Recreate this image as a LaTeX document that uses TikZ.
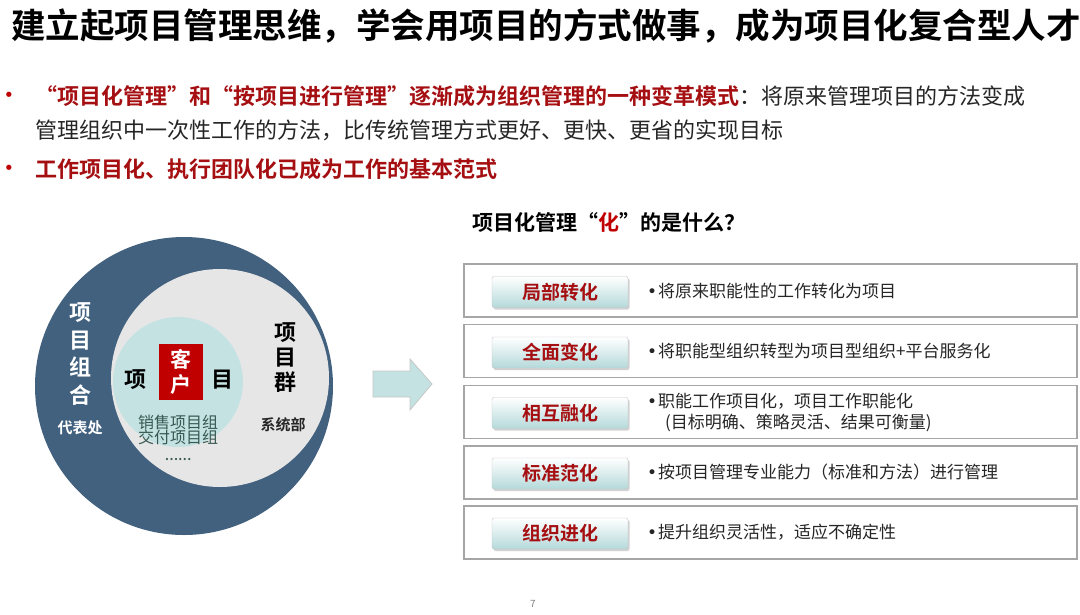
\documentclass[tikz,border=0pt]{standalone}
\usepackage{fontspec}
\setmainfont{Noto Sans CJK SC}[BoldFont={Noto Sans CJK SC Bold}]
\newfontfamily\symf{DejaVu Sans}
\usepackage{xcolor}
\usetikzlibrary{positioning, shadows}
\definecolor{hdred}{HTML}{A50F12}
\definecolor{bulred}{HTML}{C00000}
\definecolor{txtgray}{HTML}{262626}
\definecolor{ringblue}{HTML}{41617F}
\definecolor{ringgray}{HTML}{E6E6E6}
\definecolor{coreteal}{HTML}{C4E2E2}
\definecolor{grpgreen}{HTML}{365850}
\definecolor{boxline}{HTML}{A6A6A6}
\definecolor{btnteal}{HTML}{B5D9DA}
\newcommand{\bul}{{\symf •}}

\begin{document}
\begin{tikzpicture}[x=1pt, y=-1pt,
    every node/.style={inner sep=0pt},
    ttl/.style={anchor=west, font=\fontsize{34.5}{40}\selectfont\bfseries},
    pt/.style={anchor=west, font=\fontsize{22}{26}\selectfont, text=txtgray},
    dot/.style={font=\fontsize{18}{22}\selectfont, text=bulred},
    ring/.style={circle, minimum size=#1},
    vtxt/.style={align=center, font=\fontsize{22}{27}\selectfont\bfseries},
    rowbox/.style={draw=boxline, line width=1.3pt, fill=white,
                   minimum width=613, minimum height=53},
    btn/.style={draw=gray!45, rounded corners=2pt, top color=white, bottom color=btnteal,
                drop shadow={opacity=0.35, shadow xshift=1.5pt, shadow yshift=-2pt},
                minimum width=136, minimum height=31,
                font=\fontsize{19}{22}\selectfont\bfseries, text=hdred},
    desc/.style={anchor=west, align=left, font=\fontsize{17}{21}\selectfont, text=txtgray},
]
    \useasboundingbox (0,0) rectangle (1080,614);

    % header and bullet lines
    \node[ttl] (title) at (11,26) {建立起项目管理思维，学会用项目的方式做事，成为项目化复合型人才};
    \node[dot] (dot1) at (9,97) {\bul};
    \node[pt] (line1) at (35,96) {{\color{hdred}\bfseries “项目化管理”和“按项目进行管理”逐渐成为组织管理的一种变革模式}：将原来管理项目的方法变成};
    \node[pt] (line2) at (35,130) {管理组织中一次性工作的方法，比传统管理方式更好、更快、更省的实现目标};
    \node[dot] (dot2) at (9,170) {\bul};
    \node[pt, text=hdred, font=\fontsize{22}{26}\selectfont\bfseries] (line3) at (35,169) {工作项目化、执行团队化已成为工作的基本范式};

    % rings
    \node[ring=298, fill=ringblue] (outer) at (184,386) {};
    \node[ring=218, fill=ringgray] (mid) at (220,378) {};
    \node[ring=130, fill=coreteal] (core) at (178,382) {};
    \node[fill=bulred, minimum width=44, minimum height=56] (cust) at (181,372) {};
    \node[vtxt, text=white, font=\fontsize{21}{25}\selectfont\bfseries] at (cust) {客\\户};
    \node[vtxt] (xiang) at (135,380) {项};
    \node[vtxt] (mu) at (222,380) {目};
    \node[align=center, font=\fontsize{16}{15}\selectfont, text=grpgreen] (grp) at (178,430) {销售项目组\\交付项目组};
    \node[font=\fontsize{12}{12}\selectfont\bfseries, text=grpgreen] (more) at (178,460) {……};
    \node[vtxt, font=\fontsize{22}{25}\selectfont\bfseries] (qun) at (285,358) {项\\目\\群};
    \node[font=\fontsize{15}{18}\selectfont\bfseries, text=txtgray] (sys) at (283,425) {系统部};
    \node[vtxt, text=white, font=\fontsize{22}{27.5}\selectfont\bfseries] (zuhe) at (80,354) {项\\目\\组\\合};
    \node[font=\fontsize{15}{18}\selectfont\bfseries, text=white] (rep) at (80,428) {代表处};

    % big arrow
    \draw[gray!45, fill=coreteal, line width=0.8pt]
        (373,371) -- (410,371) -- (410,359) -- (432,384) -- (410,410) -- (410,397) -- (373,397) -- cycle;

    % question
    \node[anchor=west, font=\fontsize{21}{25}\selectfont\bfseries] (quest) at (472,222)
        {项目化管理“{\color{bulred}化}”的是什么？};

    % five rows
    \node[rowbox] (r1) at (770.5,290.5) {};
    \node[btn] (b1) at (560,292) {局部转化};
    \node[desc] (d1) at (647,291) {\bul\hspace{1pt}将原来职能性的工作转化为项目};

    \node[rowbox] (r2) at (770.5,351) {};
    \node[btn] (b2) at (560,352.5) {全面变化};
    \node[desc] (d2) at (647,351.5) {\bul\hspace{1pt}将职能型组织转型为项目型组织+平台服务化};

    \node[rowbox] (r3) at (770.5,412) {};
    \node[btn] (b3) at (560,413) {相互融化};
    \node[desc] (d3) at (647,413) {\bul\hspace{1pt}职能工作项目化，项目工作职能化\\\hspace{18pt}(目标明确、策略灵活、结果可衡量)};

    \node[rowbox] (r4) at (770.5,472.5) {};
    \node[btn] (b4) at (560,473.5) {标准范化};
    \node[desc] (d4) at (647,472.5) {\bul\hspace{1pt}按项目管理专业能力（标准和方法）进行管理};

    \node[rowbox] (r5) at (770.5,532.5) {};
    \node[btn] (b5) at (560,533.5) {组织进化};
    \node[desc] (d5) at (647,532.5) {\bul\hspace{1pt}提升组织灵活性，适应不确定性};

    \node[font=\fontsize{10}{12}\selectfont, text=gray] (page) at (533,604) {7};
\end{tikzpicture}
\end{document}
